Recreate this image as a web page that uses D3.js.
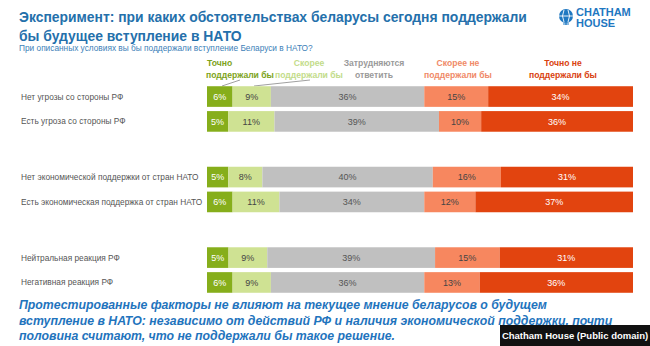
<!DOCTYPE html>
<html>
<head>
<meta charset="utf-8">
<script src="https://cdn.jsdelivr.net/npm/d3@7"></script>
<style>
  body { margin: 0; background: #fff; }
  text { font-family: "Liberation Sans", Arial, sans-serif; }
</style>
</head>
<body>
<svg width="650" height="346"></svg>
<script>
var categories = [
  "Нет угрозы со стороны РФ",
  "Есть угроза со стороны РФ",
  "Нет экономической поддержки от стран НАТО",
  "Есть экономическая поддержка от стран НАТО",
  "Нейтральная реакция РФ",
  "Негативная реакция РФ"
];
var groups = ["угроза", "угроза", "экономика", "экономика", "реакция", "реакция"];

var definitelyYes = [6, 5, 5, 6, 5, 6];
var ratherYes     = [9, 11, 8, 11, 9, 9];
var hardToSay     = [36, 39, 40, 34, 39, 36];
var ratherNo      = [15, 10, 16, 12, 15, 13];
var definitelyNo  = [34, 36, 31, 37, 31, 36];

var seriesNames = [
  ["Точно", "поддержали бы"],
  ["Скорее", "поддержали бы"],
  ["Затрудняются", "ответить"],
  ["Скорее не", "поддержали бы"],
  ["Точно не", "поддержали бы"]
];

var svg = d3.select("svg"),
    width = +svg.attr("width"),
    height = +svg.attr("height");

var colors = ["#86ae1b", "#cfe293", "#c0c0c0", "#f7875f", "#e2440f"];
var legendColors = ["#7da31a", "#c3dc8a", "#9a9a9a", "#f08a68", "#d9420f"];
var labelColors = ["#ffffff", "#444444", "#555555", "#444444", "#ffffff"];

var rows = categories.map(function(c, i) {
  return {
    name: c, group: groups[i],
    values: [definitelyYes[i], ratherYes[i], hardToSay[i], ratherNo[i], definitelyNo[i]]
  };
});

var groupScale = d3.scaleBand()
    .domain(["угроза", "экономика", "реакция"])
    .range([82, 297])
    .paddingInner(0.33);

var rowScale = d3.scaleBand()
    .domain([0, 1])
    .range([0, groupScale.bandwidth()])
    .padding(0.17);

function rowY(d, i) {
  return groupScale(d.group) + rowScale(i % 2);
}

var x0 = 207, x1 = 633;

// title
svg.append("text")
    .attr("x", 19).attr("y", 22)
    .attr("font-size", 13.9).attr("font-weight", "bold")
    .attr("fill", "#2470ab")
    .text("Эксперимент: при каких обстоятельствах беларусы сегодня поддержали");
svg.append("text")
    .attr("x", 19).attr("y", 41)
    .attr("font-size", 13.9).attr("font-weight", "bold")
    .attr("fill", "#2470ab")
    .text("бы будущее вступление в НАТО");
svg.append("text")
    .attr("x", 19).attr("y", 51)
    .attr("font-size", 8.3)
    .attr("fill", "#3d7fb8")
    .text("При описанных условиях вы бы поддержали вступление Беларуси в НАТО?");

// logo
var logo = svg.append("g").attr("transform", "translate(566,16)");
logo.append("circle").attr("r", 7).attr("fill", "#1f78c1");
logo.append("path")
    .attr("d", "M-2,-6 Q-5,0 -2,6 M2,-6 Q5,0 2,6 M-7,0 L7,0")
    .attr("stroke", "#fff").attr("stroke-width", 0.9).attr("fill", "none");
logo.append("path").attr("d", "M-3,8 L3,8 M0,7 L0,9")
    .attr("stroke", "#1f78c1").attr("stroke-width", 1.2);
svg.append("text").attr("x", 576).attr("y", 16)
    .attr("font-size", 11).attr("font-weight", "bold").attr("fill", "#1f78c1")
    .text("CHATHAM");
svg.append("text").attr("x", 576).attr("y", 27)
    .attr("font-size", 11).attr("font-weight", "bold").attr("fill", "#1f78c1")
    .text("HOUSE");

// legend headers
var legendX = [240, 309, 374, 458, 563];
var legend = svg.append("g").attr("class", "legend");
seriesNames.forEach(function(n, k) {
  var t = legend.append("text")
      .attr("x", legendX[k]).attr("y", 66)
      .attr("text-anchor", "middle")
      .attr("font-size", 8.6).attr("font-weight", "bold")
      .attr("fill", legendColors[k]);
  t.append("tspan").attr("x", k === 0 ? 207 : legendX[k]).attr("dy", 0)
      .attr("text-anchor", k === 0 ? "start" : "middle").text(n[0]);
  t.append("tspan").attr("x", legendX[k]).attr("dy", 11.5).text(n[1]);
});
legend.append("line").attr("x1", 222).attr("y1", 86).attr("x2", 240).attr("y2", 80)
    .attr("stroke", "#777").attr("stroke-width", 0.7);
legend.append("line").attr("x1", 254).attr("y1", 86).attr("x2", 310).attr("y2", 80)
    .attr("stroke", "#777").attr("stroke-width", 0.7);

// row labels
svg.append("g").selectAll("text")
  .data(rows).enter().append("text")
    .attr("x", 21)
    .attr("y", function(d, i) { return rowY(d, i) + rowScale.bandwidth() / 2 + 3; })
    .attr("font-size", 8.3).attr("fill", "#555")
    .text(function(d) { return d.name; });

// bars
var rowG = svg.append("g").selectAll("g")
  .data(rows).enter().append("g")
    .attr("transform", function(d, i) { return "translate(0," + rowY(d, i) + ")"; });

rowG.each(function(d) {
  var xs = d3.scaleLinear().domain([0, d3.sum(d.values)]).range([x0, x1]);
  var cum = d3.cumsum(d.values);
  var segs = d.values.map(function(v, k) {
    return { v: v, k: k, a: cum[k] - v, b: cum[k] };
  });
  var g = d3.select(this);
  g.selectAll("rect").data(segs).enter().append("rect")
      .attr("x", function(s) { return xs(s.a); })
      .attr("width", function(s) { return xs(s.b) - xs(s.a); })
      .attr("height", rowScale.bandwidth())
      .attr("fill", function(s) { return colors[s.k]; });
  g.selectAll("text").data(segs).enter().append("text")
      .attr("x", function(s) { return (xs(s.a) + xs(s.b)) / 2; })
      .attr("y", rowScale.bandwidth() / 2 + 3.2)
      .attr("text-anchor", "middle")
      .attr("font-size", 9)
      .attr("fill", function(s) { return labelColors[s.k]; })
      .text(function(s) { return s.v + "%"; });
});

// footer
var foot = [
  "Протестированные факторы не влияют на текущее мнение беларусов о будущем",
  "вступление в НАТО: независимо от действий РФ и наличия экономической поддержки, почти",
  "половина считают, что не поддержали бы такое решение."
];
svg.append("g").selectAll("text")
  .data(foot).enter().append("text")
    .attr("x", 19)
    .attr("y", function(d, i) { return 309 + i * 15.5; })
    .attr("font-size", 12.3).attr("font-weight", "bold").attr("font-style", "italic")
    .attr("fill", "#1f74bd")
    .text(function(d) { return d; });

// credit
svg.append("rect").attr("x", 500).attr("y", 325).attr("width", 150).attr("height", 21)
    .attr("fill", "#111");
svg.append("text").attr("x", 575).attr("y", 339)
    .attr("text-anchor", "middle")
    .attr("font-size", 9.5).attr("font-weight", "bold").attr("fill", "#fff")
    .text("Chatham House (Public domain)");
</script>
</body>
</html>
